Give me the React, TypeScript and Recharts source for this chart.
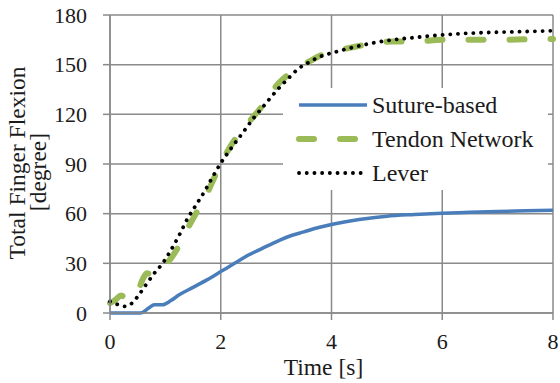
import React from 'react'
import { LineChart, Line, XAxis, YAxis, CartesianGrid, Legend } from 'recharts'

const FONT = '"Liberation Serif", "Times New Roman", serif'

// Suture-based (blue)
const sutureTime = [0, 0.55, 0.7, 0.8, 0.95, 1.1, 1.25, 1.5, 1.75, 2.0, 2.25, 2.5, 2.75, 3.0, 3.25, 3.5, 3.75, 4.0, 4.5, 5.0, 5.5, 6.0, 6.5, 7.0, 7.5, 8.0]
const sutureValue = [0, 0, 3, 5, 5, 7.5, 11, 15.5, 20, 25, 30, 35, 39, 43, 46.5, 49, 51.5, 53.5, 56.5, 58.5, 59.5, 60.3, 60.8, 61.3, 61.7, 62]

// Tendon Network (green dashed)
const tendonTime = [0, 0.1, 0.2, 0.3, 0.4, 0.5, 0.6, 0.67, 0.75, 0.85, 0.95, 1.1, 1.2, 1.35, 1.5, 1.6, 1.75, 1.9, 2.0, 2.2, 2.4, 2.6, 2.8, 3.0, 3.2, 3.4, 3.6, 3.8, 4.0, 4.3, 4.7, 5.1, 5.5, 6.0, 6.5, 7.0, 7.5, 8.0]
const tendonValue = [6, 8, 10.5, 9, 9, 13, 21, 24, 23, 24.5, 28, 33, 38, 48, 57, 63, 72, 83, 90, 102, 111, 119, 127, 137, 143.5, 148.5, 152, 155.5, 158, 160, 162.5, 164, 164, 165, 165, 165, 165.3, 165.5]

// Lever (black dotted)
const leverTime = [0, 0.15, 0.28, 0.4, 0.5, 0.67, 0.8, 0.95, 1.1, 1.25, 1.4, 1.55, 1.7, 1.85, 2.0, 2.2, 2.4, 2.6, 2.8, 3.0, 3.2, 3.4, 3.6, 3.8, 4.0, 4.3, 4.7, 5.1, 5.5, 6.0, 6.5, 7.0, 7.5, 8.0]
const leverValue = [7, 5, 4, 6, 10, 18, 24, 30, 38, 47, 57, 65, 73, 82, 90.5, 100, 109, 118, 126, 134, 141, 147.5, 151.5, 155, 157, 159.7, 162.8, 165, 166.4, 168, 169, 169.6, 170, 170.5]

const xTicks = [0, 2, 4, 6, 8]
const yTicks = [0, 30, 60, 90, 120, 150, 180]
const seriesOrder = ['Suture-based', 'Tendon Network', 'Lever']

const zip = (ts: number[], vs: number[]) => ts.map((t, i) => ({ t, v: vs[i] }))
const suture = zip(sutureTime, sutureValue)
const tendon = zip(tendonTime, tendonValue)
const lever = zip(leverTime, leverValue)

const lineStyles: Record<string, { width: number; dash?: string }> = {
  'Suture-based': { width: 3.5 },
  'Tendon Network': { width: 6, dash: '15 26' },
  'Lever': { width: 3.8, dash: '0.1 7.6' },
}

const renderLegend = (props: any) => {
  const items = [...(props.payload || [])].sort(
    (a: any, b: any) => seriesOrder.indexOf(a.value) - seriesOrder.indexOf(b.value)
  )
  return (
    <div>
      {items.map((entry: any) => {
        const st = lineStyles[entry.value] || { width: 3 }
        return (
          <div key={entry.value} style={{ display: 'flex', alignItems: 'center', height: 34 }}>
            <svg width={86} height={34}>
              <line x1={16} x2={84} y1={17} y2={17} stroke={entry.color} strokeWidth={st.width}
                strokeDasharray={st.dash} strokeLinecap={st.dash ? 'round' : 'butt'} />
            </svg>
            <span style={{ marginLeft: 3, fontSize: 24, fontFamily: FONT, color: '#1b1b1b', lineHeight: '34px' }}>
              {entry.value}
            </span>
          </div>
        )
      })}
    </div>
  )
}

const renderYLabel = () => (
  <text transform="rotate(-90)" textAnchor="middle" fontFamily={FONT} fontSize={23.5} fill="#1b1b1b">
    <tspan x={-163} y={25}>Total Finger Flexion</tspan>
    <tspan x={-172} y={46}>[degree]</tspan>
  </text>
)

const renderXLabel = (props: any) => {
  const vb = props.viewBox || { x: 110, y: 313, width: 443 }
  return (
    <text x={vb.x + vb.width / 2 - 8} y={vb.y + 62} textAnchor="middle" fontFamily={FONT} fontSize={23.5} fill="#1b1b1b">
      Time [s]
    </text>
  )
}

const App = () => {
  return (
    <div style={{ position: 'absolute', left: 0, top: 0, width: 560, height: 383, background: '#fff', fontFamily: FONT }}>
      <LineChart width={560} height={383} margin={{ top: 15, right: 7, bottom: 0, left: 0 }}>
        <CartesianGrid stroke="#8a8a8a" strokeWidth={1.5} />
        <XAxis type="number" dataKey="t" domain={[0, 8]} ticks={xTicks} height={70}
          stroke="#8a8a8a" strokeWidth={1.5} tickSize={7} tickMargin={13}
          tick={{ fill: '#1b1b1b', fontSize: 22, fontFamily: FONT }}
          label={{ content: renderXLabel }} />
        <YAxis type="number" domain={[0, 180]} ticks={yTicks} width={110}
          stroke="#8a8a8a" strokeWidth={1.5} tickSize={7} tickMargin={16}
          tick={{ fill: '#1b1b1b', fontSize: 22, fontFamily: FONT }}
          label={{ content: renderYLabel }} />
        <Legend verticalAlign="middle" align="center" layout="horizontal" content={renderLegend}
          wrapperStyle={{ left: 283, top: 88, width: 265, height: 102, background: '#fff' }} />
        <Line data={suture} dataKey="v" name="Suture-based" type="monotone" stroke="#4a7ebb"
          strokeWidth={3.5} dot={false} isAnimationActive={false} />
        <Line data={tendon} dataKey="v" name="Tendon Network" type="monotone" stroke="#9bbb59"
          strokeWidth={6} strokeDasharray="15 26" strokeLinecap="round" dot={false} isAnimationActive={false} />
        <Line data={lever} dataKey="v" name="Lever" type="monotone" stroke="#000"
          strokeWidth={3.8} strokeDasharray="0.1 7.6" strokeLinecap="round" dot={false} isAnimationActive={false} />
      </LineChart>
    </div>
  )
}

export default App
